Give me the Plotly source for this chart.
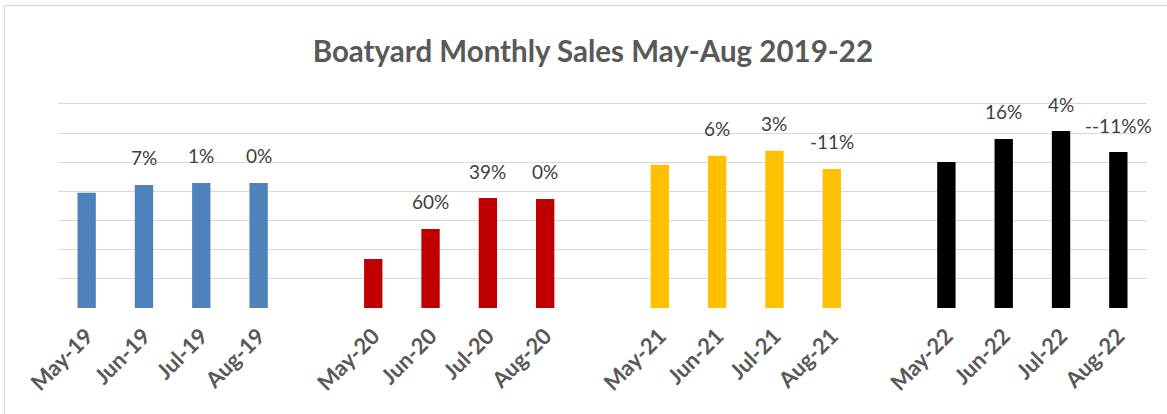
import plotly.graph_objects as go

# ---- data ----
months19 = ["May-19", "Jun-19", "Jul-19", "Aug-19"]
months20 = ["May-20", "Jun-20", "Jul-20", "Aug-20"]
months21 = ["May-21", "Jun-21", "Jul-21", "Aug-21"]
months22 = ["May-22", "Jun-22", "Jul-22", "Aug-22"]

sales19 = [3.95, 4.22, 4.29, 4.29]
sales20 = [1.68, 2.71, 3.77, 3.74]
sales21 = [4.91, 5.22, 5.39, 4.77]
sales22 = [5.01, 5.80, 6.07, 5.35]

labels19 = ["", "7%", "1%", "0%"]
labels20 = ["", "60%", "39%", "0%"]
labels21 = ["", "6%", "3%", "-11%"]
labels22 = ["", "16%", "4%", "--11%%"]

title_text = "Boatyard Monthly Sales May-Aug 2019-22"

# ---- layout constants ----
W, H = 1167, 414
ML, MR, MT, MB = 58, 20, 101, 106
YMAX = 7.1
colors = ["#4F81BD", "#C00000", "#FFC000", "#000000"]

categories = months19 + [" "] + months20 + ["  "] + months21 + ["   "] + months22

series = [
    (months19, sales19, labels19),
    (months20, sales20, labels20),
    (months21, sales21, labels21),
    (months22, sales22, labels22),
]

fig = go.Figure()
annotations = []
for (mons, vals, labs), col in zip(series, colors):
    fig.add_trace(go.Bar(x=mons, y=vals, marker=dict(color=col, line=dict(width=0)),
                         width=0.32, showlegend=False, hoverinfo="x+y"))
    for m, v, t in zip(mons, vals, labs):
        if t:
            annotations.append(dict(x=m, y=v, xref="x", yref="y", text=t,
                                    showarrow=False, yanchor="middle", yshift=27,
                                    font=dict(family="Lato", size=19, color="#404040")))

# chart border (left and top edges visible)
pw = W - ML - MR
ph = H - MT - MB
bx = (4.5 - ML) / pw
by = (H - MB - 5.5) / ph
shapes = [
    dict(type="line", xref="paper", yref="paper", x0=bx, x1=bx, y0=by, y1=-MB / ph - 0.1,
         line=dict(color="#d9d9d9", width=1.3)),
    dict(type="line", xref="paper", yref="paper", x0=bx, x1=1 + MR / pw + 0.1, y0=by, y1=by,
         line=dict(color="#d9d9d9", width=1.3)),
]

fig.update_layout(
    width=W, height=H,
    margin=dict(l=ML, r=MR, t=MT, b=MB, autoexpand=False),
    paper_bgcolor="white", plot_bgcolor="white",
    barmode="overlay",
    title=dict(text="<b>" + title_text + "</b>", x=0.508, xanchor="center",
               y=1 - 52 / H, yanchor="middle",
               font=dict(family="Lato", size=29.5, color="#595959")),
    xaxis=dict(type="category", categoryorder="array", categoryarray=categories,
               range=[-0.5, len(categories) - 0.5], tickangle=-45,
               ticklabelstandoff=10, automargin=False,
               tickfont=dict(family="Lato", size=22, color="#595959", weight="bold"),
               showgrid=False, showline=False, ticks="", fixedrange=True),
    yaxis=dict(range=[0, YMAX], dtick=1, showticklabels=False, showgrid=True,
               gridcolor="#d9d9d9", gridwidth=1.3, zeroline=False, showline=False,
               ticks="", fixedrange=True),
    annotations=annotations,
    shapes=shapes,
)

fig.write_html("out.html", config={"displayModeBar": False},
               post_script="document.body.style.margin='0';")
